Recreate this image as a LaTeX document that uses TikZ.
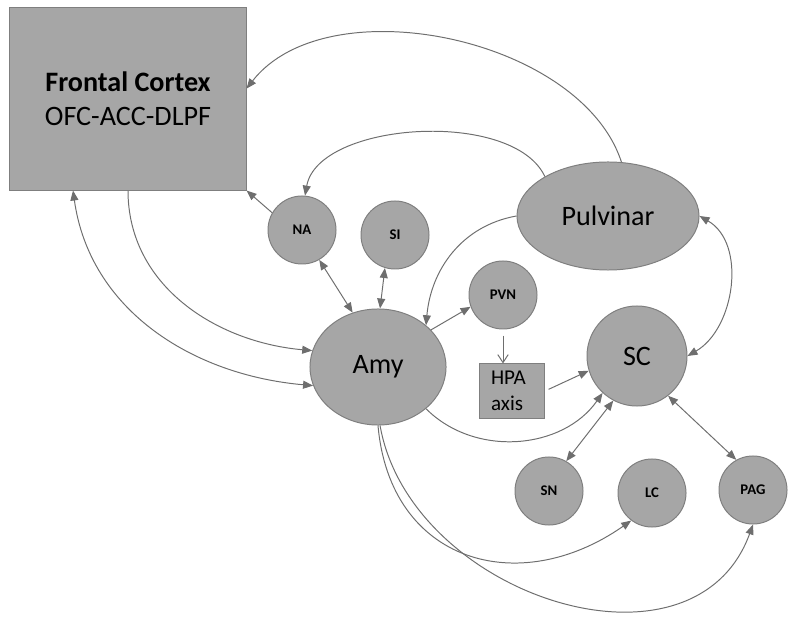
\documentclass[tikz,border=0pt]{standalone}
\usepackage{fontspec}
\setmainfont{Carlito}
\usetikzlibrary{arrows.meta, shapes.geometric}
\definecolor{nodegray}{HTML}{A6A6A6}
\definecolor{rimgray}{HTML}{7F7F7F}
\definecolor{linkgray}{HTML}{6E6E6E}

\begin{document}
\begin{tikzpicture}[x=0.025cm, y=0.025cm,
    shaded/.style={draw=rimgray, fill=nodegray, line width=0.7pt, inner sep=0pt},
    nucleus/.style={shaded, circle, minimum size=1.7cm, font=\fontsize{10.5}{12}\selectfont\bfseries},
    bigfont/.style={font=\fontsize{20}{24}\selectfont},
    link/.style={draw=linkgray, line width=0.7pt, -{Triangle[length=2.5mm, width=2mm]}},
    twoway/.style={link, {Triangle[length=2.5mm, width=2mm]}-{Triangle[length=2.5mm, width=2mm]}}]
    \useasboundingbox (0,0) rectangle (800,618);

    % Areas
    \node[shaded, rectangle, minimum width=5.9cm, minimum height=4.55cm, align=center, bigfont] (frontal) at (128,519) {\textbf{Frontal Cortex}\\OFC-ACC-DLPF};
    \node[shaded, ellipse, minimum width=4.55cm, minimum height=2.7cm, bigfont] (pulv) at (608,402) {Pulvinar};
    \node[shaded, ellipse, minimum width=3.4cm, minimum height=2.9cm, bigfont] (amy) at (378,251) {Amy};
    \node[shaded, circle, minimum size=2.5cm, bigfont] (sc) at (637,262) {SC};
    \node[shaded, rectangle, minimum width=1.625cm, minimum height=1.35cm, text width=1.05cm, align=left, font=\fontsize{15}{18.5}\selectfont] (hpa) at (512,227) {HPA\\axis};

    \node[nucleus] (na) at (302,388) {NA};
    \node[nucleus] (si) at (395,383) {SI};
    \node[nucleus] (pvn) at (503,323) {PVN};
    \node[nucleus] (sn) at (549,127) {SN};
    \node[nucleus] (lc) at (652,125) {LC};
    \node[nucleus] (pag) at (753,128) {PAG};

    % Pulvinar outputs
    \draw[link] (pulv.76) to[out=108, in=52, looseness=0.88] (frontal.5);
    \draw[link] (pulv.148) to[out=115, in=80, looseness=0.8] (na.85);
    \draw[link] (pulv.west) to[out=190, in=85] (amy.41);
    \draw[twoway] (pulv.east) to[out=-30, in=30] (sc.east);

    % Cortex and amygdala
    \draw[link] (na.150) -- (frontal.south east);
    \draw[link] (frontal.south) to[out=-90, in=175] (amy.166);
    \draw[twoway] (frontal.239) to[out=-82, in=175] (amy.196);
    \draw[twoway] (na.-60) -- (amy.115);
    \draw[twoway] (si.-107) -- (amy.88);

    % Stress axis
    \draw[link] (amy.35) -- (pvn.200);
    \draw[link, -{Straight Barb[length=2mm, width=2.6mm]}, shorten <=1.5mm] (pvn.south) -- (pvn.south |- hpa.north);
    \draw[link, shorten <=1mm] (hpa.east) -- (sc.197);

    % Brainstem targets
    \draw[link] (amy.-41) to[out=-45, in=-125] (sc.-133);
    \draw[twoway] (sc.-118) -- (sn.60);
    \draw[twoway] (sc.-52) -- (pag.119);
    \draw[link] (amy.south) to[out=-85, in=-145, looseness=1.3] (lc.-127);
    \draw[link] (amy.-88) to[out=-80, in=-110, looseness=1.15] (pag.south);
\end{tikzpicture}
\end{document}
